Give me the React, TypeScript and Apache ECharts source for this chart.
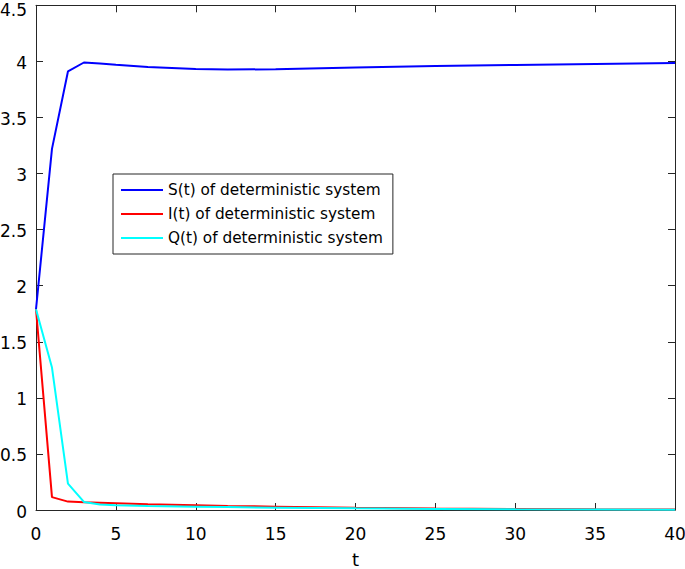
import React, { useEffect, useRef } from "react";
import * as echarts from "echarts";

const tValues = [0, 1, 2, 3, 4, 5, 7, 10, 12, 15, 20, 25, 30, 35, 40];
const sValues = [1.79, 3.22, 3.91, 3.99, 3.982, 3.97, 3.95, 3.932, 3.927, 3.93, 3.945, 3.958, 3.968, 3.977, 3.985];
const iValues = [1.79, 0.115, 0.075, 0.068, 0.064, 0.06, 0.052, 0.042, 0.036, 0.03, 0.021, 0.014, 0.009, 0.006, 0.004];
const qValues = [1.79, 1.27, 0.235, 0.072, 0.05, 0.042, 0.036, 0.03, 0.026, 0.021, 0.015, 0.01, 0.007, 0.005, 0.003];
const seriesNames = ["S(t) of deterministic system", "I(t) of deterministic system", "Q(t) of deterministic system"];
const seriesColors = ["#0000ff", "#ff0000", "#00ffff"];

const FONT = "DejaVu Sans, Liberation Sans, Arial, sans-serif";

export default function App() {
  const ref = useRef<HTMLDivElement>(null);
  useEffect(() => {
    const chart = echarts.init(ref.current!, null, { renderer: "svg" });
    const all = [sValues, iValues, qValues];
    const axisLine = { show: true, onZero: false, lineStyle: { color: "#262626", width: 1 } };
    const tick = { show: true, inside: true, length: 7, lineStyle: { color: "#262626" } };
    const lab = { fontFamily: FONT, fontSize: 17, color: "#000" };
    chart.setOption({
      animation: false,
      backgroundColor: "#fff",
      grid: { left: 36, right: 10, top: 5.3, bottom: 59, containLabel: false, outerBoundsMode: "none" },
      legend: {
        orient: "vertical",
        left: 113,
        top: 174,
        padding: [6, 10, 6, 8],
        itemGap: 4,
        itemWidth: 42,
        itemHeight: 2,
        itemTextGap: 6,
        icon: "rect",
        borderColor: "#262626",
        borderWidth: 1,
        borderRadius: 0,
        backgroundColor: "#fff",
        textStyle: { fontFamily: FONT, fontSize: 15.3, color: "#000", lineHeight: 20 },
        data: seriesNames,
      },
      xAxis: [
        {
          type: "value",
          min: 0,
          max: 40,
          interval: 5,
          name: "t",
          nameLocation: "middle",
          nameGap: 40,
          nameTextStyle: { fontFamily: FONT, fontSize: 18, color: "#000" },
          axisLine,
          axisTick: tick,
          axisLabel: { ...lab, margin: 15 },
          splitLine: { show: false },
        },
        {
          type: "value",
          position: "top",
          min: 0,
          max: 40,
          interval: 5,
          axisLine,
          axisTick: tick,
          axisLabel: { show: false },
          splitLine: { show: false },
        },
      ],
      yAxis: [
        {
          type: "value",
          min: 0,
          max: 4.5,
          interval: 0.5,
          axisLine,
          axisTick: tick,
          axisLabel: {
            ...lab,
            margin: 9,
            verticalAlign: "top",
            lineHeight: 3,
            formatter: (v: number) => (v === 4.5 ? `{t|${v}}` : `{n|${v}}`),
            rich: {
              t: { ...lab, lineHeight: 9 },
              n: { ...lab, lineHeight: 3 },
            },
          },
          splitLine: { show: false },
        },
        {
          type: "value",
          position: "right",
          min: 0,
          max: 4.5,
          interval: 0.5,
          axisLine,
          axisTick: tick,
          axisLabel: { show: false },
          splitLine: { show: false },
        },
      ],
      series: seriesNames.map((name, k) => ({
        name,
        type: "line",
        data: tValues.map((t, i) => [t, all[k][i]]),
        showSymbol: false,
        symbol: "none",
        color: seriesColors[k],
        lineStyle: { color: seriesColors[k], width: 2 },
        z: 3 + k,
      })),
    });
    return () => chart.dispose();
  }, []);
  return <div ref={ref} style={{ position: "fixed", left: 0, top: 0, width: 685, height: 569 }} />;
}
